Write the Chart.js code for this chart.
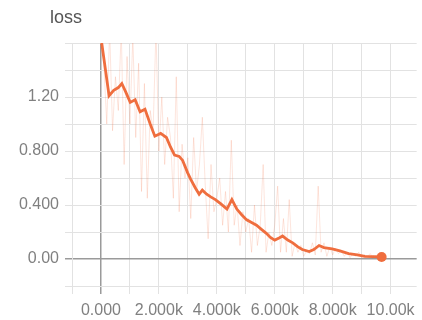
<!DOCTYPE html>
<html>
<head>
<meta charset="utf-8">
<script src="https://cdn.jsdelivr.net/npm/chart.js@4/dist/chart.umd.min.js"></script>
<style>
  html, body { margin: 0; padding: 0; background: #fff; }
  #wrap { width: 422px; height: 320px; position: relative; }
</style>
</head>
<body>
<div id="wrap"><canvas id="chart"></canvas></div>
<script>
// smoothed loss curve
const smoothSteps = [0, 280, 440, 600, 720, 850, 1010, 1180, 1350, 1520, 1700, 1860, 2060, 2260, 2400, 2540, 2700, 2820, 2990, 3100, 3250, 3390, 3500, 3650, 3790, 3950, 4130, 4350, 4520, 4690, 4850, 5030, 5200, 5370, 5540, 5710, 5850, 6000, 6150, 6270, 6450, 6620, 6800, 6950, 7190, 7350, 7530, 7700, 7980, 8250, 8550, 8850, 9110, 9400, 9690];
const smoothLoss = [1.64, 1.21, 1.25, 1.27, 1.30, 1.24, 1.16, 1.18, 1.09, 1.11, 1.0, 0.91, 0.93, 0.90, 0.83, 0.77, 0.76, 0.73, 0.64, 0.59, 0.53, 0.48, 0.51, 0.48, 0.46, 0.44, 0.41, 0.37, 0.44, 0.37, 0.33, 0.29, 0.27, 0.25, 0.22, 0.19, 0.16, 0.14, 0.155, 0.17, 0.14, 0.12, 0.09, 0.07, 0.055, 0.07, 0.10, 0.085, 0.075, 0.06, 0.04, 0.03, 0.02, 0.017, 0.015];

// raw (unsmoothed) loss, faint in the background
const rawSteps = [0, 100, 200, 300, 400, 500, 600, 700, 800, 900, 1000, 1100, 1200, 1300, 1400, 1500, 1600, 1700, 1800, 1900, 2000, 2100, 2200, 2300, 2400, 2500, 2600, 2700, 2800, 2900, 3000, 3100, 3200, 3300, 3400, 3500, 3600, 3700, 3800, 3900, 4000, 4100, 4200, 4300, 4400, 4500, 4600, 4700, 4800, 4900, 5000, 5100, 5200, 5300, 5400, 5500, 5600, 5700, 5800, 5900, 6000, 6100, 6200, 6300, 6400, 6500, 6600, 6700, 6800, 6900, 7000, 7100, 7200, 7300, 7400, 7500, 7600, 7700, 7800, 7900, 8000, 8100, 8200, 8300, 8400, 8500, 8600, 8700, 8800, 8900, 9000, 9100, 9200, 9300, 9400, 9500, 9600, 9690];
const rawLoss = [1.75, 1.45, 1.0, 1.7, 0.95, 1.35, 1.1, 1.7, 0.7, 1.5, 1.0, 1.65, 0.9, 1.45, 0.5, 1.3, 0.45, 1.1, 0.95, 1.7, 0.8, 1.2, 0.7, 1.05, 0.9, 0.45, 1.35, 0.35, 0.85, 0.6, 0.75, 0.3, 0.9, 0.5, 0.7, 1.05, 0.55, 0.15, 0.7, 0.35, 0.45, 0.6, 0.25, 0.5, 0.2, 0.88, 0.25, 0.4, 0.1, 0.35, 0.2, 0.3, 0.05, 0.4, 0.1, 0.25, 0.7, 0.05, 0.2, 0.1, 0.25, 0.54, 0.05, 0.3, 0.05, 0.44, 0.02, 0.12, 0.05, 0.1, 0.02, 0.06, 0.04, 0.12, 0.03, 0.54, 0.05, 0.12, 0.02, 0.09, 0.03, 0.08, 0.04, 0.06, 0.02, 0.05, 0.01, 0.04, 0.02, 0.05, 0.01, 0.03, 0.02, 0.04, 0.005, 0.03, 0.01, 0.02];

// grid positions and the labels shown on them
const xGrid = [-1000, 0, 1000, 2000, 3000, 4000, 5000, 6000, 7000, 8000, 9000, 10000];
const xTickLabels = {0: '0.000', 2000: '2.000k', 4000: '4.000k', 6000: '6.000k', 8000: '8.000k', 10000: '10.00k'};
const yGrid = [-0.2, 0, 0.2, 0.4, 0.6, 0.8, 1.0, 1.2, 1.4, 1.6];
const yTickLabels = {'0': '0.00', '0.4': '0.400', '0.8': '0.800', '1.2': '1.20'};

const lineColor = '#ef6d3d';
const gridColor = '#e2e2e2';
const zeroColor = '#9a9a9a';
const font = { family: '"Liberation Sans", Arial, sans-serif', size: 16 };

const pair = (xs, ys) => xs.map((x, i) => ({x, y: ys[i]}));
const isZero = c => c.tick && Math.abs(c.tick.value) < 1e-9;

// title "loss" top-left
const titlePlugin = {
  id: 'lossTitle',
  afterDraw(chart) {
    const ctx = chart.ctx;
    ctx.save();
    ctx.fillStyle = '#555';
    ctx.font = '18px "Liberation Sans", Arial, sans-serif';
    ctx.textBaseline = 'middle';
    ctx.fillText('loss', 50, 18);
    ctx.restore();
  }
};

new Chart(document.getElementById('chart'), {
  type: 'line',
  data: {
    datasets: [
      {
        label: 'raw',
        data: pair(rawSteps, rawLoss),
        borderColor: 'rgba(245,125,85,0.2)',
        borderWidth: 1,
        pointRadius: 0,
        tension: 0,
      },
      {
        label: 'loss',
        data: pair(smoothSteps, smoothLoss),
        borderColor: lineColor,
        backgroundColor: lineColor,
        borderWidth: 2.8,
        pointRadius: ctx => ctx.dataIndex === smoothSteps.length - 1 ? 5 : 0,
        pointBorderWidth: 0,
        tension: 0,
      },
    ]
  },
  options: {
    responsive: true,
    maintainAspectRatio: false,
    animation: false,
    layout: { padding: { top: 43, left: 0, right: 0, bottom: 0 } },
    plugins: { legend: { display: false }, tooltip: { enabled: false } },
    scales: {
      x: {
        type: 'linear',
        min: -1000,
        max: 10900,
        afterBuildTicks: s => { s.ticks = xGrid.map(value => ({value})); },
        afterFit: s => { s.height = 34; },
        ticks: {
          autoSkip: false,
          maxRotation: 0,
          padding: 7,
          color: '#808080',
          font,
          callback: v => xTickLabels[v] !== undefined ? xTickLabels[v] : '',
        },
        grid: {
          tickLength: 8,
          color: c => isZero(c) ? zeroColor : gridColor,
          lineWidth: c => isZero(c) ? 1.5 : 1,
        },
        border: { display: false },
      },
      y: {
        min: -0.2,
        max: 1.6,
        afterBuildTicks: s => { s.ticks = yGrid.map(value => ({value})); },
        afterFit: s => { s.width = 72; },
        ticks: {
          autoSkip: false,
          padding: 6,
          color: '#808080',
          font,
          callback: v => {
            const k = String(Math.round(v * 10) / 10);
            return yTickLabels[k] !== undefined ? yTickLabels[k] : '';
          },
        },
        grid: {
          tickLength: 7,
          color: c => isZero(c) ? zeroColor : gridColor,
          lineWidth: c => isZero(c) ? 1.5 : 1,
        },
        border: { display: true, color: gridColor },
      }
    }
  },
  plugins: [titlePlugin]
});
</script>
</body>
</html>
